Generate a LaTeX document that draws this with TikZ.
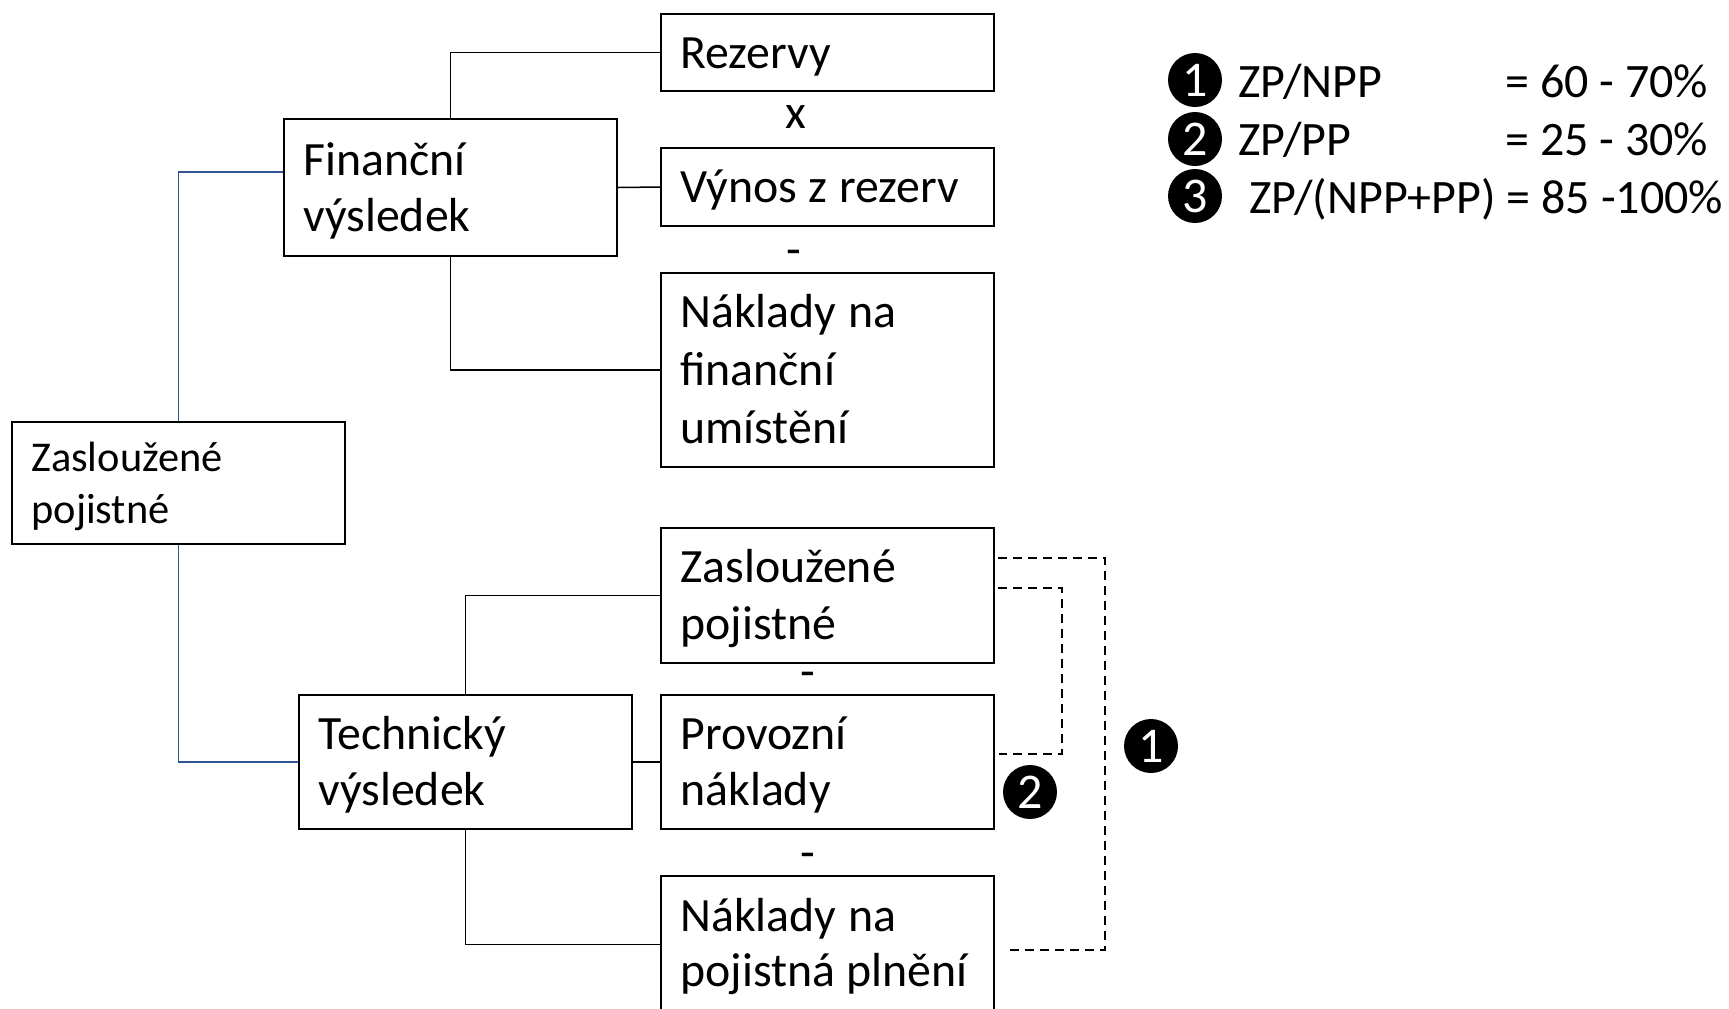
\documentclass[tikz,border=0pt]{standalone}
\usepackage{fontspec}
\setmainfont{Carlito}
\newfontfamily\boxfont[WordSpace=1.08]{Carlito}
\definecolor{linkblue}{RGB}{47,85,151}
\newcommand\topstrut{\rule{0pt}{22pt}}
\tikzset{
  box/.style={draw, line width=1pt, rectangle, anchor=north west, inner sep=0pt,
    minimum width=166.5pt},
  txt/.style={anchor=north west, inner sep=0pt, align=left},
  tf/.style={font=\boxfont\fontsize{23.9}{#1}\selectfont},
  conn/.style={line width=0.75pt},
  bconn/.style={line width=0.75pt, draw=linkblue},
  dconn/.style={line width=0.75pt, dash pattern=on 4.5pt off 3pt},
  badge/.style={circle, fill=black, text=white, minimum size=27pt, inner sep=0pt, font=\fontsize{25}{25}\selectfont},
  op/.style={font=\fontsize{24}{28}\selectfont, inner sep=0pt},
  leg/.style={anchor=base west, inner sep=0pt, font=\fontsize{24}{28}\selectfont}
}
\begin{document}
\begin{tikzpicture}[x=0.5pt,y=-0.5pt]
\useasboundingbox (0,0) rectangle (1729,1008);
% boxes
\node[box, minimum height=38.5pt] (rez) at (660,13) {};
\node[box, minimum height=39pt] (vyn) at (660,147) {};
\node[box, minimum height=97pt] (nfu) at (660,272) {};
\node[box, minimum height=68.5pt] (fin) at (283,118) {};
\node[box, minimum height=61pt] (zp0) at (11,421) {};
\node[box, minimum height=67.5pt] (zp1) at (660,527) {};
\node[box, minimum height=67pt] (prov) at (660,694) {};
\node[box, minimum height=68.5pt] (npp) at (660,875) {};
\node[box, minimum height=67pt] (tech) at (298,694) {};
% box texts
\node[txt, tf=28.5pt] (rezt) at ([xshift=10pt,yshift=-5.45pt]rez.north west) {\topstrut Rezervy};
\node[txt, tf=28.5pt] (vynt) at ([xshift=10pt,yshift=-5.45pt]vyn.north west) {\topstrut Výnos z rezerv};
\node[txt, tf=29.15pt] (nfut) at ([xshift=10pt,yshift=-5.35pt]nfu.north west) {\topstrut Náklady na\\finanční\\umístění};
\node[txt, tf=27.8pt] (fint) at ([xshift=10pt,yshift=-6.55pt]fin.north west) {\topstrut Finanční\\výsledek};
\node[txt, font=\boxfont\fontsize{21.2}{25.9}\selectfont] (zp0t) at ([xshift=10pt,yshift=-3pt]zp0.north west) {\topstrut Zasloužené\\pojistné};
\node[txt, tf=28.85pt] (zp1t) at ([xshift=10pt,yshift=-5.35pt]zp1.north west) {\topstrut Zasloužené\\pojistné};
\node[txt, tf=28.05pt] (provt) at ([xshift=10pt,yshift=-5.45pt]prov.north west) {\topstrut Provozní\\náklady};
\node[txt, tf=27.85pt] (nppt) at ([xshift=10pt,yshift=-5.9pt]npp.north west) {\topstrut Náklady na\\pojistná plnění};
\node[txt, tf=28.05pt] (techt) at ([xshift=10pt,yshift=-5.45pt]tech.north west) {\topstrut Technický\\výsledek};
% operators
\node[op] (opx) at (796,117) {x};
\node[op] (op1) at (794,258) {-};
\node[op] (op2) at (808,680) {-};
\node[op] (op3) at (808,861) {-};
% connectors
\draw[conn] (fin.north) |- (rez.west);
\draw[conn] (fin.east) -- (vyn.west);
\draw[conn] (fin.south) |- (nfu.west);
\draw[bconn] (zp0.north) |- ([yshift=7.75pt]fin.west);
\draw[bconn] (zp0.south) |- (tech.west);
\draw[conn] (tech.north) |- (zp1.west);
\draw[conn] (tech.east) -- (prov.west);
\draw[conn] (tech.south) |- (npp.west);
% dashed brackets
\draw[dconn] ([xshift=1.5pt,yshift=18.75pt]zp1.east) -- ++(107,0) |- ([xshift=6pt,yshift=-2.75pt]npp.east);
\draw[dconn] ([xshift=1.5pt,yshift=3.75pt]zp1.east) -- ++(64,0) |- ([xshift=2pt,yshift=4pt]prov.east);
% badges
\node[badge] (b2) at (1030,792) {2};
\node[badge] (b1) at (1151,746) {1};
% legend
\node[badge] (l1) at (1195,80) {1};
\node[badge] (l2) at (1195,139) {2};
\node[badge] (l3) at (1195,196) {3};
\node[leg] (t1) at (1238,97) {ZP/NPP};
\node[leg] (v1) at (1505,97) {= 60 - 70\%};
\node[leg] (t2) at (1238,155) {ZP/PP};
\node[leg] (v2) at (1505,155) {= 25 - 30\%};
\node[leg] (t3) at (1249,213) {ZP/(NPP+PP) = 85 -100\%};
\end{tikzpicture}
\end{document}
